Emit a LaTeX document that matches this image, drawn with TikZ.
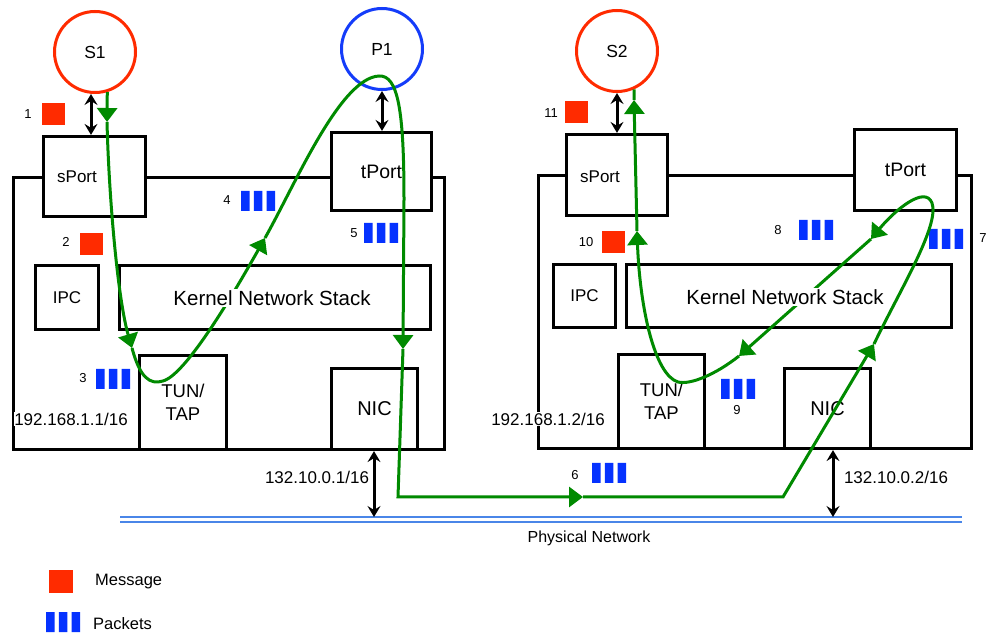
\documentclass[tikz,border=0pt]{standalone}
\usepackage{fontspec}
\setmainfont{Liberation Sans}
\usetikzlibrary{arrows.meta,calc}
\definecolor{msgred}{RGB}{255,43,0}
\definecolor{pktblue}{RGB}{5,50,255}
\definecolor{ringblue}{RGB}{20,60,250}
\definecolor{flowgreen}{RGB}{0,138,0}
\definecolor{netblue}{RGB}{74,134,232}
\newcommand\myfs[1]{\fontsize{#1}{#1}\selectfont}
\tikzset{
  box/.style={draw, line width=3.2pt, inner sep=0pt},
  wbox/.style={box, fill=white},
  ring/.style={circle, draw, line width=3pt, minimum size=81pt, inner sep=0pt, font=\myfs{17.5}},
  flow/.style={draw=flowgreen, line width=3pt},
  fa/.style={-{Triangle[width=20pt,length=14pt]}},
  dbl/.style={line width=3pt, {Stealth[length=11pt,width=13pt,inset=4pt]}-{Stealth[length=11pt,width=13pt,inset=4pt]}},
  msg/.style={fill=msgred, minimum width=23pt, minimum height=22pt, inner sep=0pt},
  num/.style={font=\myfs{13}, inner sep=0pt},
  iplabel/.style={font=\myfs{17}, fill=white, inner sep=0.5pt},
  kern/.style={font=\myfs{20.5}, fill=white, inner sep=1.5pt},
  pics/packets/.style={code={\fill[pktblue] (0,0) rectangle (8.5,20) (12.75,0) rectangle (21.25,20) (25.5,0) rectangle (34,20);}}
}
\begin{document}
\begin{tikzpicture}[x=1pt,y=-1pt]
\useasboundingbox[fill=white] (0,0) rectangle (989,636);

% ---------- left host ----------
\node[box, minimum width=431pt, minimum height=272pt] (hostL) at (229,313.5) {};
\node[wbox, minimum width=102pt, minimum height=80pt] (sPortL) at (94.5,176.5) {};
\node[font=\myfs{17}] (sPortLt) at (77,177) {sPort};
\node[wbox, minimum width=100pt, minimum height=78pt, font=\myfs{19.5}] (tPortL) at (381.5,171.5) {tPort};
\node[box, minimum width=63pt, minimum height=64pt, font=\myfs{17}] (ipcL) at (67,297.5) {IPC};
\node[box, minimum width=311pt, minimum height=64pt] (kernL) at (275,297.5) {};
\node[box, minimum width=87pt, minimum height=94pt, align=center, font=\fontsize{18.5}{23}\selectfont] (tunL) at (183,402.5) {TUN/\\TAP};
\node[box, minimum width=86pt, minimum height=81pt, font=\myfs{20}] (nicL) at (374.5,409) {NIC};

% ---------- right host ----------
\node[box, minimum width=433pt, minimum height=273pt] (hostR) at (755,312) {};
\node[wbox, minimum width=101pt, minimum height=81pt] (sPortR) at (617,175) {};
\node[font=\myfs{17}] (sPortRt) at (600,177) {sPort};
\node[wbox, minimum width=102pt, minimum height=81pt, font=\myfs{19.5}] (tPortR) at (905.5,170) {tPort};
\node[box, minimum width=62pt, minimum height=63pt, font=\myfs{17}] (ipcR) at (584.5,296) {IPC};
\node[box, minimum width=325pt, minimum height=63pt] (kernR) at (789,296) {};
\node[box, minimum width=86pt, minimum height=94pt, align=center, font=\fontsize{18.5}{23}\selectfont] (tunR) at (661.5,401.5) {TUN/\\TAP};
\node[box, minimum width=86pt, minimum height=80pt, font=\myfs{20}] (nicR) at (827.5,408.5) {NIC};

% ---------- processes ----------
\node[ring, draw=msgred] (S1) at (95,52) {S1};
\node[ring, draw=ringblue] (P1) at (382,49) {P1};
\node[ring, draw=msgred] (S2) at (617,51) {S2};

% ---------- physical network ----------
\coordinate (netA) at (120,517);
\coordinate (netB) at (962,517);
\coordinate (netC) at (120,522);
\coordinate (netD) at (962,522);
\draw[netblue, line width=2.6pt] (netA) -- (netB) (netC) -- (netD);
\node[font=\myfs{16}] (phys) at (589,538) {Physical Network};
\coordinate (netL) at (374,517);
\coordinate (netR) at (833,517);

% ---------- black double arrows ----------
\draw[dbl] ($(S1.south)+(-4,0)$) -- ($(S1.south |- sPortL.north)+(-4,0)$);
\draw[dbl] (P1.south) -- (P1.south |- tPortL.north);
\draw[dbl] (S2.south) -- (S2.south |- sPortR.north);
\draw[dbl] (netL |- nicL.south) -- (netL);
\draw[dbl] (netR |- nicR.south) -- (netR);

% ---------- messages and packets ----------
\node[msg] (m1) at (53.5,114) {};
\node[num] (n1) at (28,114) {1};
\node[msg] (m2) at (91.5,244) {};
\node[num] (n2) at (66,242) {2};
\node[msg] (m10) at (613.5,242.5) {};
\node[num] (n10) at (586,242) {10};
\node[msg] (m11) at (576.5,112.5) {};
\node[num] (n11) at (551,113) {11};

\pic at (96,369) {packets};  \node[num] (n3) at (83,378) {3};
\pic at (241,191) {packets}; \node[num] (n4) at (227,200) {4};
\pic at (364,223) {packets}; \node[num] (n5) at (354,233) {5};
\pic at (592,463) {packets}; \node[num] (n6) at (575,475) {6};
\pic at (929,229) {packets}; \node[num] (n7) at (983,238) {7};
\pic at (799,220) {packets}; \node[num] (n8) at (778,230) {8};
\pic at (721,379) {packets}; \node[num] (n9) at (737,410) {9};

% ---------- green flow ----------
\coordinate (a1) at (107,122);
\coordinate (a2) at (132,348);
\coordinate (u1) at (163,381);
\coordinate (a3) at (265,238);
\coordinate (pk) at (379,76);
\coordinate (v1) at (404,200);
\coordinate (a4) at (403,349);
\coordinate (c1) at (398,497);
\coordinate (a5) at (583,497);
\coordinate (c2) at (783,497);
\coordinate (a6) at (874,344);
\coordinate (lp) at (932,203);
\coordinate (a7) at (871,239);
\coordinate (a8) at (739,356);
\coordinate (u2) at (678,382);
\coordinate (a9) at (637,231);
\coordinate (a10) at (634,100);
\draw[flow,fa] (S1.-73) -- (a1);
\draw[flow,fa] (a1) .. controls (109,200) and (118,300) .. (a2);
\draw[flow,fa] (a2) .. controls (140,378) and (150,385) .. (u1) .. controls (185,375) and (230,300) .. (a3);
\draw[flow,fa] (a3) .. controls (295,185) and (340,78) .. (pk) .. controls (398,75) and (404,110) .. (v1) -- (a4);
\draw[flow,fa] (a4) -- (c1) -- (a5);
\draw[flow,fa] (a5) -- (c2) -- (a6);
\draw[flow,fa] (a6) .. controls (900,290) and (940,225) .. (lp) .. controls (925,185) and (895,210) .. (a7);
\draw[flow,fa] (a7) -- (a8);
\draw[flow,fa] (a8) .. controls (715,375) and (690,385) .. (u2) .. controls (655,375) and (640,310) .. (a9);
\draw[flow,fa] (a9) -- (a10);
\draw[flow] (a10) -- (S2.-66);

% ---------- labels on top ----------
\node[kern] (kernLt) at (272,298) {Kernel Network Stack};
\node[kern] (kernRt) at (785,297) {Kernel Network Stack};
\node[iplabel] (ipL) at (71,419) {192.168.1.1/16};
\node[iplabel] (ipR) at (548,419) {192.168.1.2/16};
\node[font=\myfs{17}] (nicipL) at (317,477) {132.10.0.1/16};
\node[font=\myfs{17}] (nicipR) at (896,477) {132.10.0.2/16};

% ---------- legend ----------
\node[msg, minimum width=24pt, minimum height=23pt] (lm) at (61,581.5) {};
\node[font=\myfs{16.5}, anchor=west, inner sep=0pt] (lmt) at (95,582) {Message};
\pic at (46,612) {packets};
\node[font=\myfs{16.5}, anchor=west, inner sep=0pt] (lpt) at (93,624) {Packets};
\end{tikzpicture}
\end{document}
